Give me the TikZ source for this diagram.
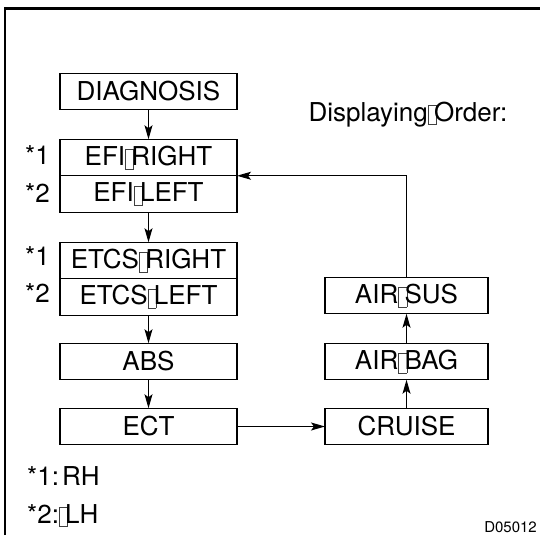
\documentclass[tikz,border=0pt]{standalone}
\usepackage{fontspec}
\setmainfont{TeX Gyre Heros}
\usepackage{tikz}
\usetikzlibrary{positioning,arrows.meta}
% boite vide a la place d'un caractere manquant
\newcommand{\tofu}{\makebox[0.24em][l]{\raisebox{-0.12em}{\color{black!75}\fboxsep=0pt\fboxrule=0.45pt\framebox{\rule{0pt}{0.72em}\hspace{0.3em}}}}}

\begin{document}
\begin{tikzpicture}[
  x=1pt, y=-1pt,
  every node/.style={font=\fontsize{26}{30}\selectfont},
  blk/.style={draw, line width=1.1pt, minimum width=177pt, minimum height=36.5pt,
              inner sep=0pt, outer sep=0pt, align=center},
  blkr/.style={blk, minimum width=163pt},
  star/.style={inner sep=0pt},
  fleche/.style={line width=1.1pt, -{Stealth[length=14pt, width=8pt, inset=3pt]}}
]

\useasboundingbox (0,0) rectangle (540,535);
\draw[line width=2.2pt] (5,535) |- (540,8.5);

% ---- colonne de gauche ----
\node[blk] (diag) at (148.5,91.5) {DIAGNOSIS};
\node[blk] (efiR) at (148.5,157.5) {EFI\tofu RIGHT};
\node[blk, below=0pt of efiR] (efiL) {EFI\tofu LEFT};
\node[blk] (etcsR) at (148.5,260.5) {ETCS\tofu RIGHT};
\node[blk, below=0pt of etcsR] (etcsL) {ETCS\tofu LEFT};
\node[blk] (abs) at (148.5,361.5) {ABS};
\node[blk] (ect) at (148.5,426.5) {ECT};

\node[star, left=10pt of efiR, yshift=2pt] (s1a) {*1};
\node[star, left=10pt of efiL, yshift=1pt] (s2a) {*2};
\node[star, left=10pt of etcsR, yshift=4pt] (s1b) {*1};
\node[star, left=10pt of etcsL, yshift=4pt] (s2b) {*2};

% ---- colonne de droite ----
\node[blkr] (cruise) at (406.5,426.5) {CRUISE};
\node[blkr] (bag) at (406.5,361.5) {AIR\tofu BAG};
\node[blkr] (sus) at (406.5,295.5) {AIR\tofu SUS};

\node[anchor=base west] (ttl) at (305,121) {Displaying\tofu Order:};

% ---- ordre d'affichage ----
\draw[fleche] (diag) -- (efiR);
\draw[fleche] (efiL) -- (etcsR);
\draw[fleche] (etcsL) -- (abs);
\draw[fleche] (abs) -- (ect);
\draw[fleche] (ect) -- (cruise);
\draw[fleche] (cruise) -- (bag);
\draw[fleche] (bag) -- (sus);
\draw[fleche] (sus.north) |- (efiR.south east);

% ---- notes ----
\node[anchor=base west, inner sep=0pt] (n1) at (27,485) {*1:\hspace{0.12em}RH};
\node[anchor=base west, inner sep=0pt] (n2) at (27,523) {*2:\tofu LH};
\node[anchor=base east, inner sep=0pt, font=\fontsize{15}{18}\selectfont] (code) at (537,532) {D05012};

\end{tikzpicture}
\end{document}
